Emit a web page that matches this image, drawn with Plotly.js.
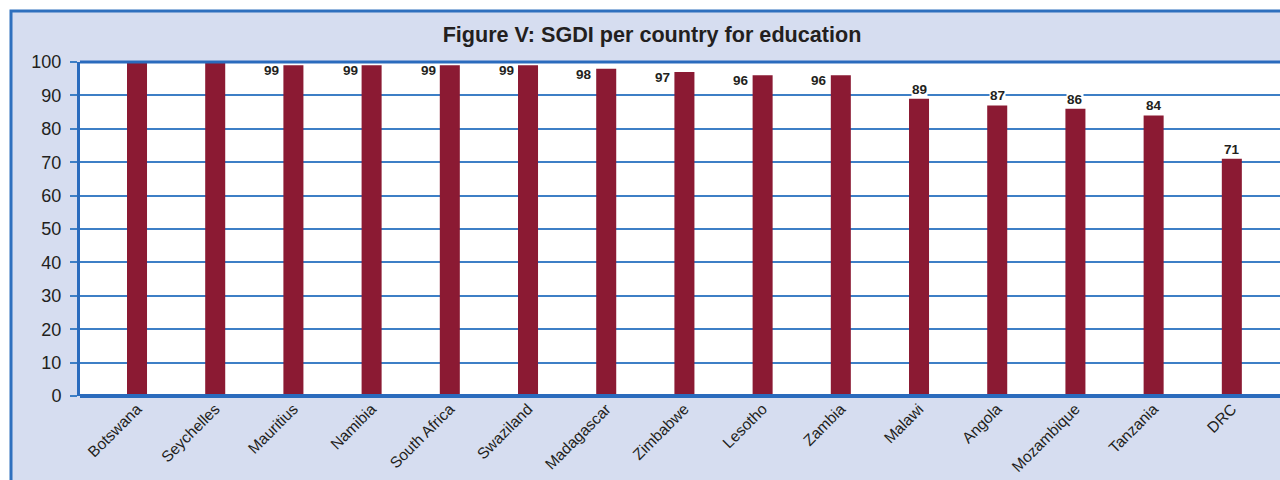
<!DOCTYPE html>
<html><head><meta charset="utf-8">
<script src="https://cdn.plot.ly/plotly-3.0.1.min.js"></script>
<style>html,body{margin:0;padding:0;overflow:hidden;background:#fff}#chart{width:1280px;height:480px}</style>
</head><body><div id="chart"></div>
<script>
const countries = ["Botswana","Seychelles","Mauritius","Namibia","South Africa","Swaziland","Madagascar","Zimbabwe","Lesotho","Zambia","Malawi","Angola","Mozambique","Tanzania","DRC"];
const sgdi = [100,100,99,99,99,99,98,97,96,96,89,87,86,84,71];
const valueLabels = ["","","99","99","99","99","98","97","96","96","89","87","86","84","71"];

const W=1280,H=480,L=80,R=0,T=62,B=84;
const pw=W-L-R, ph=H-T-B;
const px = v => (v-L)/pw;
const py = v => (H-B-v)/ph;

const annotations = [];
sgdi.forEach((v,i)=>{
  if(!valueLabels[i]) return;
  const side = v>=95;
  annotations.push({
    x: countries[i], y: v, xref:'x', yref:'y', text: valueLabels[i], showarrow:false,
    xanchor: side?'right':'center', yanchor: side?'top':'bottom',
    xshift: side?-13:0, yshift: side?3:1,
    bgcolor: side?'rgba(0,0,0,0)':'#ffffff', borderpad:0,
    font:{family:'Liberation Sans, Arial, sans-serif', size:13.5, color:'#231f20', weight:'bold'}
  });
});

const data=[{type:'bar', x:countries, y:sgdi, width:0.256, marker:{color:'#8b1a33'}, hoverinfo:'skip'}];
const layout={
  width:W,height:H,margin:{l:L,r:R,t:T,b:B},
  paper_bgcolor:'#ffffff', plot_bgcolor:'#ffffff',
  title:{text:'<b>Figure V: SGDI per country for education</b>', x:652/W, xref:'container', xanchor:'center', y:1-34/H, yref:'container', yanchor:'middle',
    font:{family:'Liberation Sans, Arial, sans-serif', size:21.6, color:'#231f20'}},
  xaxis:{type:'category', range:[-0.729,14.616], showgrid:false, showline:false, ticks:'', tickangle:-45,
    tickfont:{family:'Liberation Sans, Arial, sans-serif', size:15.5, color:'#231f20'}, fixedrange:true},
  yaxis:{range:[0,100], tickvals:[0,10,20,30,40,50,60,70,80,90,100], showgrid:true, gridcolor:'#3d7fc6', gridwidth:2,
    showline:true, linecolor:'#2a6bbd', linewidth:3, ticks:'outside', ticklen:7, tickcolor:'#3d7fc6', tickwidth:2,
    ticklabelstandoff:5,
    zeroline:false, tickfont:{family:'Liberation Sans, Arial, sans-serif', size:18, color:'#231f20'}, fixedrange:true},
  showlegend:false, bargap:0.7,
  annotations:annotations,
  shapes:[
    {type:'rect', xref:'paper', yref:'paper', x0:px(11), x1:px(1300), y0:py(11), y1:py(500), fillcolor:'#d6ddf0', line:{color:'#2f70be', width:3}, layer:'below'},
    {type:'rect', xref:'paper', yref:'paper', x0:0, x1:1.02, y0:0, y1:1, fillcolor:'#ffffff', line:{width:0}, layer:'below'},
    {type:'line', xref:'paper', yref:'paper', x0:0, x1:1, y0:0, y1:0, line:{color:'#2a6bbd', width:4}},
    {type:'line', xref:'paper', yref:'paper', x0:0, x1:1, y0:1, y1:1, line:{color:'#2a6bbd', width:3}}
  ]
};
Plotly.newPlot('chart',data,layout,{staticPlot:true});
</script></body></html>
